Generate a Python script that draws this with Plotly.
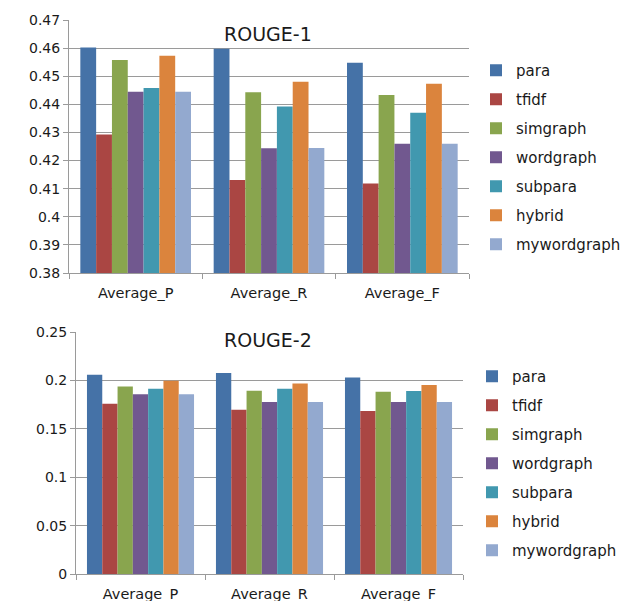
import plotly.graph_objects as go

# Summary evaluation scores per method
categories = ["Average_P", "Average_R", "Average_F"]
methods = ["para", "tfidf", "simgraph", "wordgraph", "subpara", "hybrid", "mywordgraph"]
colors = ["#4572A7", "#AA4643", "#89A54E", "#71588F", "#4198AF", "#DB843D", "#93A9CF"]

rouge1_para = [0.4602, 0.4598, 0.4548]
rouge1_tfidf = [0.4293, 0.4131, 0.4118]
rouge1_simgraph = [0.4558, 0.4443, 0.4433]
rouge1_wordgraph = [0.4445, 0.4244, 0.4260]
rouge1_subpara = [0.4458, 0.4392, 0.4370]
rouge1_hybrid = [0.4573, 0.4480, 0.4473]
rouge1_mywordgraph = [0.4445, 0.4245, 0.4260]

rouge2_para = [0.2058, 0.2076, 0.2031]
rouge2_tfidf = [0.1760, 0.1697, 0.1684]
rouge2_simgraph = [0.1938, 0.1893, 0.1883]
rouge2_wordgraph = [0.1856, 0.1777, 0.1777]
rouge2_subpara = [0.1914, 0.1914, 0.1890]
rouge2_hybrid = [0.1997, 0.1969, 0.1952]
rouge2_mywordgraph = [0.1856, 0.1777, 0.1777]

rouge1_ticks = [0.38, 0.39, 0.40, 0.41, 0.42, 0.43, 0.44, 0.45, 0.46, 0.47]
rouge1_ticktext = ["0.38", "0.39", "0.4", "0.41", "0.42", "0.43", "0.44", "0.45", "0.46", "0.47"]
rouge2_ticks = [0, 0.05, 0.1, 0.15, 0.2, 0.25]
rouge2_ticktext = ["0", "0.05", "0.1", "0.15", "0.2", "0.25"]

rouge1 = [rouge1_para, rouge1_tfidf, rouge1_simgraph, rouge1_wordgraph,
          rouge1_subpara, rouge1_hybrid, rouge1_mywordgraph]
rouge2 = [rouge2_para, rouge2_tfidf, rouge2_simgraph, rouge2_wordgraph,
          rouge2_subpara, rouge2_hybrid, rouge2_mywordgraph]

FONT = "'DejaVu Sans', sans-serif"
TEXT = "#1a1a1a"
GRID = "#9a9a9a"

fig = go.Figure()

for name, col, vals in zip(methods, colors, rouge1):
    fig.add_trace(go.Bar(x=categories, y=vals, name=name, marker_color=col,
                         marker_line_width=0, xaxis="x", yaxis="y",
                         legend="legend", legendgroup="r1" + name))
for name, col, vals in zip(methods, colors, rouge2):
    fig.add_trace(go.Bar(x=categories, y=vals, name=name, marker_color=col,
                         marker_line_width=0, xaxis="x2", yaxis="y2",
                         legend="legend2", legendgroup="r2" + name))

W, H = 628, 601

def xd(a, b):
    return [a / W, b / W]

def yd(top, bottom):
    return [1 - bottom / H, 1 - top / H]

axis_font = dict(family=FONT, size=14, color=TEXT)
cat_font = dict(family=FONT, size=14.5, color=TEXT)

xcommon = dict(type="category", showgrid=False, showline=True, linecolor=GRID,
               linewidth=1, ticks="outside", tickson="boundaries", ticklen=5,
               tickcolor=GRID, tickfont=cat_font, ticklabelstandoff=7,
               automargin=False)
ycommon = dict(showgrid=True, gridcolor=GRID, gridwidth=1, showline=True,
               linecolor=GRID, linewidth=1, ticks="outside", ticklen=5,
               tickcolor=GRID, tickfont=axis_font, zeroline=False, automargin=False)

legend_common = dict(font=dict(family=FONT, size=15, color=TEXT),
                     bgcolor="rgba(0,0,0,0)", borderwidth=0,
                     traceorder="grouped", tracegroupgap=6.5,
                     xanchor="left", yanchor="top", itemwidth=30)

fig.update_layout(
    width=W, height=H,
    margin=dict(l=0, r=0, t=0, b=0, autoexpand=False),
    paper_bgcolor="white", plot_bgcolor="white",
    barmode="group", bargap=0.17, bargroupgap=0,
    showlegend=True,
    xaxis=dict(domain=xd(69, 469), anchor="y", **xcommon),
    yaxis=dict(domain=yd(20, 273), anchor="x", range=[0.38, 0.47],
               tickvals=rouge1_ticks, ticktext=rouge1_ticktext, **ycommon),
    xaxis2=dict(domain=xd(76, 463), anchor="y2", **xcommon),
    yaxis2=dict(domain=yd(332, 574), anchor="x2", range=[0, 0.25],
                tickvals=rouge2_ticks, ticktext=rouge2_ticktext, **ycommon),
    legend=dict(x=476 / W, y=1 - 54 / H, **legend_common),
    legend2=dict(x=472 / W, y=1 - 360 / H, **legend_common),
    annotations=[
        dict(text="ROUGE-1", x=268 / W, y=1 - 34 / H, xref="paper", yref="paper",
             xanchor="center", yanchor="middle", showarrow=False,
             font=dict(family=FONT, size=19, color=TEXT)),
        dict(text="ROUGE-2", x=268 / W, y=1 - 340 / H, xref="paper", yref="paper",
             xanchor="center", yanchor="middle", showarrow=False,
             font=dict(family=FONT, size=19, color=TEXT)),
    ],
)

fig.write_html("out.html")
